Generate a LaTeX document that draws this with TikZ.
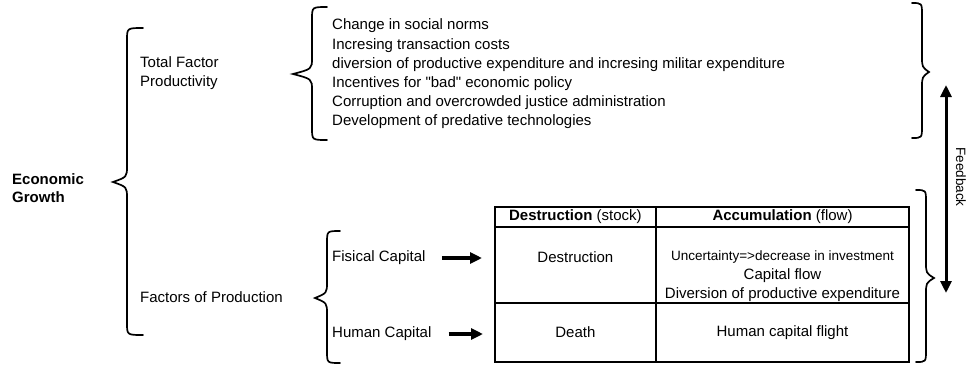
\documentclass[tikz,border=0pt]{standalone}
\usepackage{fontspec}
\setmainfont{Liberation Sans}[Ligatures=TeXOff]
\usepackage{tikz}
\usetikzlibrary{arrows.meta,positioning}
\tikzset{
  txt/.style={inner sep=0pt, align=left, anchor=west},
  cell/.style={rectangle, draw=black, line width=2.3pt, inner sep=0pt, outer sep=0pt, align=center},
  brc/.style={line width=1.7pt, line cap=round},
  ar/.style={-{Triangle[length=12pt,width=11pt]}, line width=3.2pt},
  arb/.style={{Triangle[length=12pt,width=11pt]}-{Triangle[length=12pt,width=11pt]}, line width=3pt}
}
% curly brace: end x, stem x, tip x, top y, tip y, bottom y
\newcommand{\curly}[6]{%
  \draw[brc] ({#1},{#4}) .. controls ({#2},{#4}) .. ({#2},{#4+12})
    -- ({#2},{#5-16}) .. controls ({#2},{#5-5}) .. ({#3},{#5})
    .. controls ({#2},{#5+5}) .. ({#2},{#5+16})
    -- ({#2},{#6-12}) .. controls ({#2},{#6}) .. ({#1},{#6});}

\begin{document}
\begin{tikzpicture}[x=1pt, y=-1pt, font=\fontsize{15}{19}\selectfont]
\useasboundingbox (0,0) rectangle (967,367);
% ---- left side labels ----
\node[txt, font=\bfseries\fontsize{15}{17.7}\selectfont] (eg) at (12,188) {Economic\\Growth};
\node[txt] (tfp) at (140,73) {Total Factor\\Productivity};
\node[txt] (fop) at (140,297) {Factors of Production};
\node[txt, font=\fontsize{15}{19.2}\selectfont] (items) at (332,74) {Change in social norms\\
  Incresing transaction costs\\
  diversion of productive expenditure and incresing militar expenditure\\
  Incentives for "bad" economic policy\\
  Corruption and overcrowded justice administration\\
  Development of predative technologies};
\node[txt] (fis) at (332,258) {Fisical Capital};
\node[txt] (hum) at (332,334) {Human Capital};
% ---- braces ----
\curly{143}{127}{113}{28}{182}{335}
\curly{327}{312}{293}{7}{74}{140}
\curly{340}{327}{315}{231}{298}{363}
\curly{912}{922}{929}{3}{72}{138}
\curly{916}{926}{934}{190}{278}{362}
% ---- table ----
\node[cell, minimum width=160.7pt, minimum height=19.4pt, anchor=north west] (h1) at (495,207.3) {\textbf{Destruction} (stock)};
\node[cell, minimum width=253.6pt, minimum height=19.4pt, right=0pt of h1] (h2) {\textbf{Accumulation} (flow)};
\node[cell, minimum width=160.7pt, minimum height=76.6pt, below=0pt of h1] (r1a) {};
\node[cell, minimum width=253.6pt, minimum height=76.6pt, below=0pt of h2] (r1b) {};
\node[cell, minimum width=160.7pt, minimum height=58.4pt, below=0pt of r1a] (r2a) {Death};
\node[cell, minimum width=253.6pt, minimum height=58.4pt, below=0pt of r1b] (r2b) {Human capital flight};
\node[inner sep=0pt] (destr) at ([yshift=8pt]r1a.center) {Destruction};
\node[inner sep=0pt, align=center] (accum) at ([yshift=-11pt]r1b.center)
  {{\fontsize{13.5}{18}\selectfont Uncertainty=>decrease in investment}\\Capital flow\\Diversion of productive expenditure};
% ---- arrows ----
\draw[ar, shorten <=16pt, shorten >=13pt] (fis.east) -- (fis.east -| r1a.west);
\draw[ar, shorten <=17pt, shorten >=12pt] (hum.east) -- (hum.east -| r2a.west);
\coordinate (fbtop) at (946,85);
\coordinate (fbbot) at (946,293);
\draw[arb] (fbtop) -- (fbbot);
\node[rotate=-90, inner sep=0pt, font=\fontsize{13.5}{16}\selectfont] (fb) at (961,177) {Feedback};
\end{tikzpicture}
\end{document}
